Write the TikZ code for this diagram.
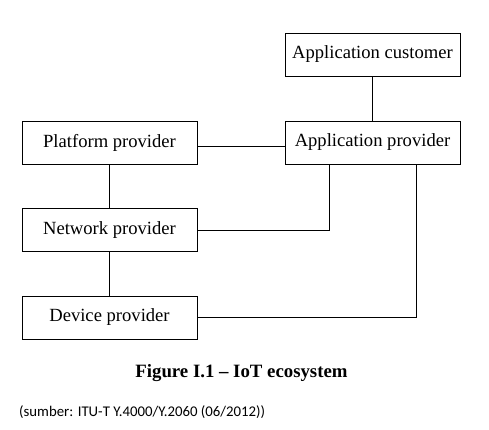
\documentclass[tikz,border=0pt]{standalone}
\usepackage{fontspec}
\setmainfont{Liberation Serif}
\newfontfamily\srcfont{Carlito}
\usetikzlibrary{positioning}

\tikzset{
	actor/.style={draw, line width=0.9pt, minimum width=175pt, minimum height=43pt,
		inner sep=0pt, font=\fontsize{18.6}{20}\selectfont},
	link/.style={line width=0.9pt}
}

\begin{document}
\begin{tikzpicture}[x=1pt, y=-1pt]

	\useasboundingbox (0,0) rectangle (489,430);

	\node[actor] (cust) at (372.5,54.5) {Application customer};
	\node[actor] (app) at (372.5,142.5) {Application provider};
	\node[actor] (plat) at (109.5,142.5) {Platform provider};
	\node[actor] (net) at (109.5,230) {Network provider};
	\node[actor] (dev) at (109.5,317.5) {Device provider};

	\draw[link] (cust) -- (app);
	\draw[link] ([yshift=-4pt]plat.east) -- ([yshift=-4pt]app.west);
	\draw[link] (plat) -- (net);
	\draw[link] (net) -- (dev);
	\draw[link] (net.east) -| ([xshift=-43.5pt]app.south);
	\draw[link] (dev.east) -| ([xshift=43.5pt]app.south);

	\node[font=\fontsize{18.8}{20}\selectfont\bfseries] (caption) at (241.5,373) {Figure I.1 -- IoT ecosystem};
	\node[anchor=west, inner sep=0pt, font=\srcfont\fontsize{14.8}{16}\selectfont] (src) at (19,412) {(sumber: ITU-T Y.4000/Y.2060 (06/2012))};
\end{tikzpicture}
\end{document}
